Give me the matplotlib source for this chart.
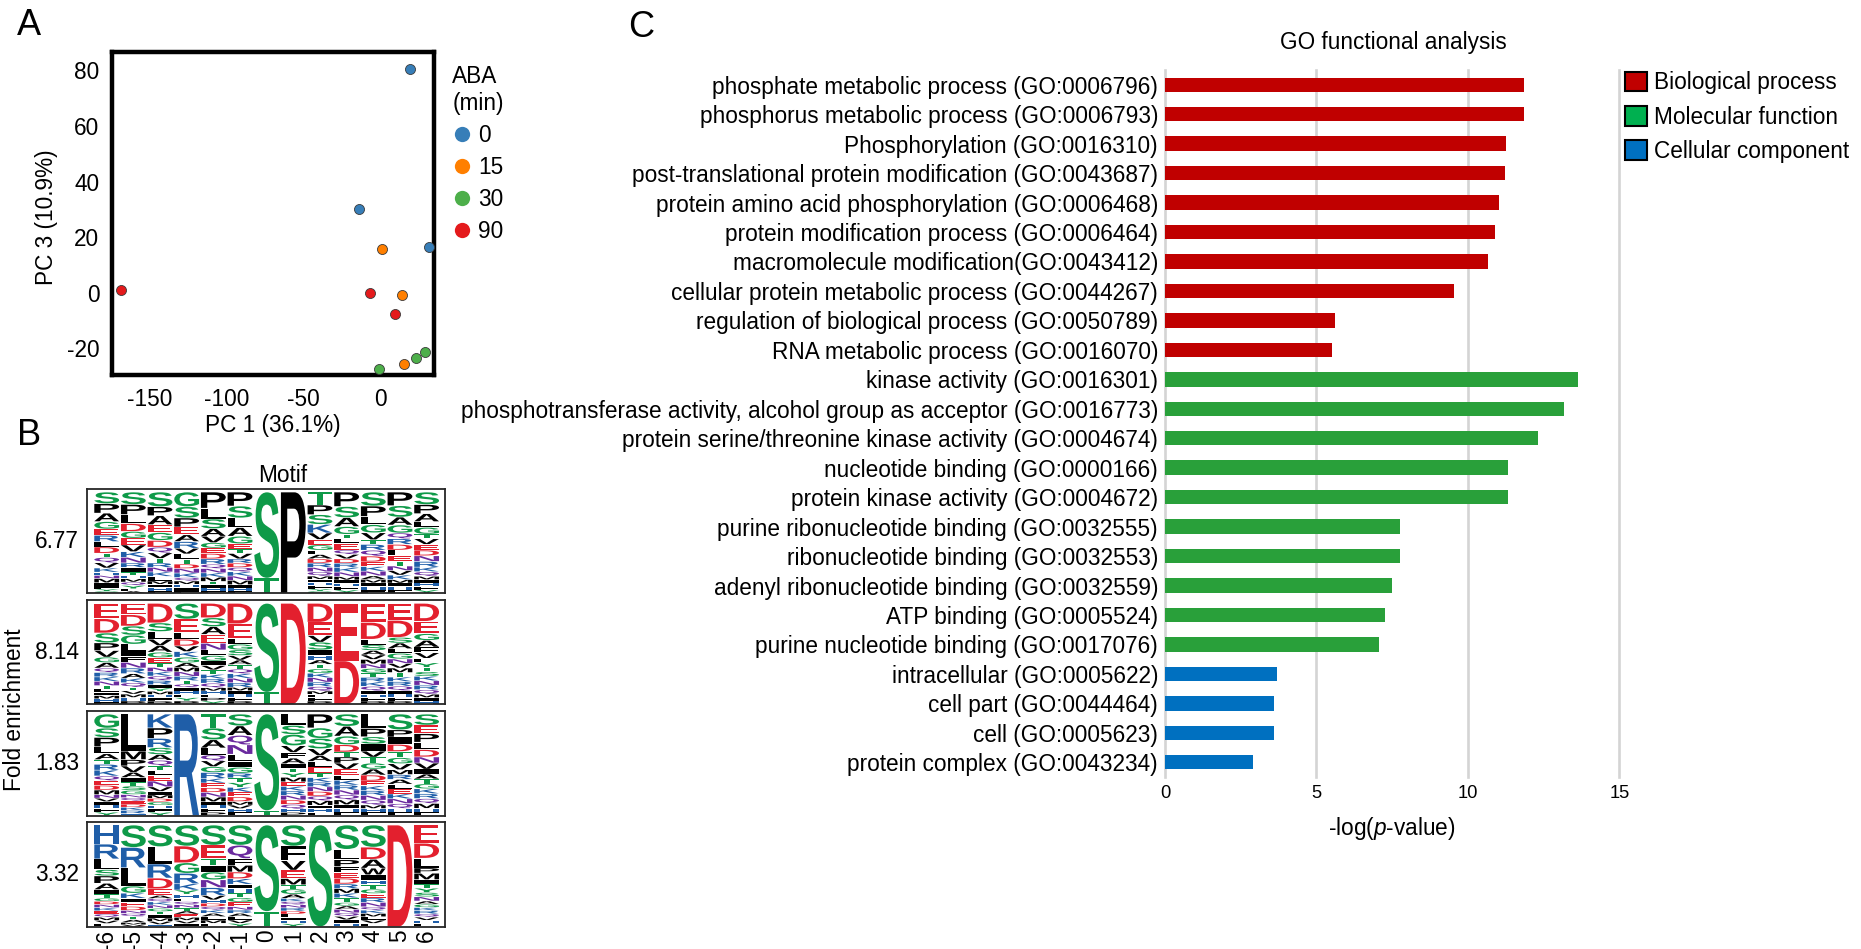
import matplotlib
matplotlib.use('Agg')
import matplotlib.pyplot as plt
from matplotlib.textpath import TextPath
from matplotlib.patches import PathPatch, Patch
from matplotlib.font_manager import FontProperties
from matplotlib.transforms import Affine2D
from matplotlib.lines import Line2D

plt.rcParams['font.family'] = ['Liberation Sans', 'DejaVu Sans']
plt.rcParams['mathtext.fontset'] = 'custom'
plt.rcParams['mathtext.rm'] = 'Liberation Sans'
plt.rcParams['mathtext.it'] = 'Liberation Sans:italic'
plt.rcParams['axes.unicode_minus'] = False

# ---------------- data: panel A (PCA) ----------------
ABA_TIMES = ['0', '15', '30', '90']
ABA_COLORS = ['#377EB8', '#FF7F00', '#4DAF4A', '#E41A1C']
PC1_ABA0 = [18.9, -14.1, 31.3]
PC3_ABA0 = [80.5, 30.1, 16.5]
PC1_ABA15 = [0.8, 14.1, 15.0]
PC3_ABA15 = [15.6, -0.8, -25.6]
PC1_ABA30 = [-1.2, 22.9, 29.0]
PC3_ABA30 = [-27.4, -23.4, -21.4]
PC1_ABA90 = [-169.1, -6.8, 9.4]
PC3_ABA90 = [1.1, 0.0, -7.8]
PC1_TICKS = [-150, -100, -50, 0]
PC3_TICKS = [-20, 0, 20, 40, 60, 80]

# ---------------- data: panel B (motif logos) ----------------
POSITIONS = [-6, -5, -4, -3, -2, -1, 0, 1, 2, 3, 4, 5, 6]
FOLD_ENRICHMENT = ['6.77', '8.14', '1.83', '3.32']
LOGO_1 = ["S11 P9 A8 G7 E6 R6 L5 D6 T4 Q5 V5 K4 H3 N3 M4 I3 F3 Y2 C2",
          "S11 P9 L8 D7 G6 E6 V6 K5 N5 R4 I4 T3 H3 M3 Q3 Y3 F2 A2",
          "S13 P8 A8 E7 G7 D6 Q5 V5 T4 R4 N4 K4 L4 M3 I3 H3 F2",
          "G13 S10 P8 E7 A6 R6 V5 L5 T4 D4 N4 K4 Q3 M3 H3 I3 F2",
          "P15 L10 S9 A7 V6 G5 E5 D5 R5 Q4 N4 K4 M4 T3 I3 H3 F2",
          "P13 S11 L9 A8 G7 E5 T4 V5 R4 D4 Q4 K4 N4 M4 I3 H3 F2",
          "S85 T15",
          "P100",
          "T12 P9 S9 K8 V6 E5 G5 L4 A4 D4 R4 N4 Q4 M3 I3 H3 F3 Y2 C2",
          "P13 S10 A8 G7 T4 L4 E6 Q4 V4 D4 R4 K4 N4 M3 I3 H3 F3 Y3",
          "S12 P9 L7 G7 V6 T4 R5 Q5 D5 E4 K4 N4 A3 M3 I3 H3 F3",
          "P12 S10 A7 G7 Q5 R5 D5 L5 E5 T4 N4 V4 K4 M3 I3 H3 F3",
          "S11 P8 A7 L5 G6 T4 V5 E5 D5 N5 R5 K4 Q4 M3 I3 H3 F3 Y3"]
LOGO_2 = ["E14 D13 S9 P7 V6 G5 A5 Q4 R4 K4 N4 T3 L3 I3 M3 H3 F2",
          "E10 D10 S8 G8 L6 I5 F5 N5 R5 A4 K4 Q4 T3 V3 M3 H3 P3",
          "D18 S8 L7 V6 A6 G5 E5 T4 N4 K4 Q4 R4 I3 Y3 M3 H3 F3 P3",
          "S14 E12 L6 D6 V5 K5 G5 A4 M4 N4 R4 T3 Q3 I3 H3 F3 Y3 P3",
          "D13 S8 A7 E8 N6 L5 G5 I4 V4 T4 K4 R4 Q4 M3 H3 F3 P3 Y3",
          "D18 E13 L5 G5 S5 V4 A4 T4 Q4 K4 N4 R4 M3 I3 H3 F3 P3",
          "S88 T12",
          "D100",
          "D17 E12 V6 S7 I5 H4 A4 T4 G4 K4 N4 R4 Q4 M3 L3 F3 P3",
          "E57 D43",
          "E17 D15 L5 S5 A4 V4 M4 N4 G4 T4 R4 K4 Q4 I3 H3 F3 P3",
          "E15 D15 S5 A5 L4 G5 N4 V4 M4 T4 K4 R4 Q4 I3 H3 F3 P3",
          "D16 E11 G6 A6 F5 V5 L4 Y4 T4 S4 K4 N4 R4 Q4 M3 I3 H3"]
LOGO_3 = ["G12 S8 P8 L6 A5 T4 R5 K5 Q4 E4 D4 M4 N3 V3 I3 H3 F3 Y3",
          "L35 M8 P6 V6 A5 I4 T4 S4 G4 N3 Q3 E3 D3 K3 R3 H2",
          "K12 P9 R8 S6 A5 Q5 T4 L4 E5 N5 V4 I3 M3 D3 G3 H3 F3 Y3",
          "R100",
          "T12 S10 A7 L6 Q5 V5 G5 R5 K4 E4 D4 N4 M4 I3 H3 F3 P3",
          "S10 A8 Q8 N8 L6 I5 G5 R4 T4 Y4 K4 E4 D4 M3 V3 H3 F3",
          "S95 T5",
          "L10 S8 G10 V6 F5 A5 I4 T4 Y4 M4 E4 K4 R4 N4 D4 Q4 H3 P3",
          "P12 G9 S9 V6 A5 L5 E5 T4 K4 R4 N4 D4 Q4 M4 I3 H3 F3",
          "S10 A8 G7 D6 T4 P5 V5 E5 L4 K4 R4 N4 Q4 M4 I3 H3 F3",
          "L12 P7 S6 I6 V5 T5 G5 A5 D5 E4 K4 R4 N4 Q4 M3 H3 F3",
          "S13 P6 I6 D6 T5 G5 V5 M4 R4 A4 L4 E4 K4 N4 Q4 H3 F3",
          "S9 E7 P7 L6 D6 N5 V5 I4 A4 T4 G4 K4 R4 Q4 M4 H3 F3"]
LOGO_4 = ["H18 R14 L10 S6 P7 A6 I4 T4 G3 D3 N3 K3 E3 Q3 M3 V3 F3",
          "S22 R20 L18 G7 K5 I4 E4 D4 N3 Q3 T3 A3 M2 V2",
          "S20 L16 R13 D10 E6 A3 Q3 K3 N3 G3 T3 I3 M3 V3 H2",
          "S20 D16 G10 R10 K6 Y4 H4 L3 Q3 N3 T3 A3 E3 M3 V3 I3",
          "S18 E12 T6 I6 G7 N7 R7 V4 H3 D3 Q3 K3 A3 L3 M3 F3",
          "S18 Q12 F6 M6 D6 K5 I4 H4 T4 G4 E4 N3 R3 A3 L3 V3 Y3",
          "S85 T15",
          "S20 F14 V9 E8 M6 T4 G5 A4 K3 Q3 N3 R3 D3 L3 I3 H3 Y3",
          "S100",
          "S21 L9 P6 F5 E5 D5 R4 M4 K4 T4 G3 A3 N3 Q3 V3 I3 H3",
          "S20 D11 A8 W6 I5 H4 T4 G4 E4 R4 N4 Q3 K3 M3 L3 V3 F3",
          "D100",
          "E17 D14 L9 P5 M6 I4 T4 Y4 S4 N4 A3 G3 K3 R3 Q3 V3 H3 F3"]
LOGOS = [LOGO_1, LOGO_2, LOGO_3, LOGO_4]

# ---------------- data: panel C (GO analysis) ----------------
GO_TERMS = ['phosphate metabolic process (GO:0006796)',
            'phosphorus metabolic process (GO:0006793)',
            'Phosphorylation (GO:0016310)',
            'post-translational protein modification (GO:0043687)',
            'protein amino acid phosphorylation (GO:0006468)',
            'protein modification process (GO:0006464)',
            'macromolecule modification(GO:0043412)',
            'cellular protein metabolic process (GO:0044267)',
            'regulation of biological process (GO:0050789)',
            'RNA metabolic process (GO:0016070)',
            'kinase activity (GO:0016301)',
            'phosphotransferase activity, alcohol group as acceptor (GO:0016773)',
            'protein serine/threonine kinase activity (GO:0004674)',
            'nucleotide binding (GO:0000166)',
            'protein kinase activity (GO:0004672)',
            'purine ribonucleotide binding (GO:0032555)',
            'ribonucleotide binding (GO:0032553)',
            'adenyl ribonucleotide binding (GO:0032559)',
            'ATP binding (GO:0005524)',
            'purine nucleotide binding (GO:0017076)',
            'intracellular (GO:0005622)',
            'cell part (GO:0044464)',
            'cell (GO:0005623)',
            'protein complex (GO:0043234)']
GO_VALUES = [11.85, 11.85, 11.26, 11.21, 11.02, 10.91, 10.65, 9.53, 5.61, 5.52,
             13.65, 13.18, 12.33, 11.32, 11.34, 7.76, 7.76, 7.49, 7.25, 7.06,
             3.71, 3.59, 3.59, 2.91]
GO_CATEGORY = ['BP'] * 10 + ['MF'] * 10 + ['CC'] * 4
CAT_NAMES = {'BP': 'Biological process', 'MF': 'Molecular function', 'CC': 'Cellular component'}
BAR_COLORS = {'BP': '#C00000', 'MF': '#29A03A', 'CC': '#0070C0'}
LEGEND_COLORS = {'BP': '#C00000', 'MF': '#00B050', 'CC': '#0070C0'}
GO_XTICKS = [0, 5, 10, 15]

# ---------------- layout helpers ----------------
W, H = 1861, 949
fig = plt.figure(figsize=(W / 100, H / 100), dpi=100)


def fx(px):
    return px / W


def fy(py):
    return 1 - py / H


def rect(l, t, r, b):
    return [l / W, 1 - b / H, (r - l) / W, (b - t) / H]


FS = 16.3

# ---------------- Panel A ----------------
axA = fig.add_axes(rect(111.8, 52.3, 434.3, 375.3))
series = [(PC1_ABA0, PC3_ABA0), (PC1_ABA15, PC3_ABA15),
          (PC1_ABA30, PC3_ABA30), (PC1_ABA90, PC3_ABA90)]
for lab, col, (xs, ys) in zip(ABA_TIMES, ABA_COLORS, series):
    axA.scatter(xs, ys, s=52, c=col, edgecolors='#3a3a3a', linewidths=0.6,
                zorder=3, label=lab, clip_on=False)
axA.set_xlim(-174.9, 35.0)
axA.set_ylim(-29.7, 86.5)
axA.set_xticks(PC1_TICKS)
axA.set_yticks(PC3_TICKS)
axA.tick_params(length=0, labelsize=FS, pad=9)
for s in axA.spines.values():
    s.set_linewidth(3.2)
    s.set_color('black')
fig.text(fx(273), fy(425), 'PC 1 (36.1%)', ha='center', va='center', fontsize=FS)
fig.text(fx(46.4), fy(216.7), 'PC 3 (10.9%)', ha='center', va='center',
         fontsize=FS, rotation=90)
handles = [Line2D([], [], marker='o', linestyle='none', markersize=11,
                  markerfacecolor=c, markeredgecolor='none') for c in ABA_COLORS]
legA = fig.legend(handles, ABA_TIMES, title='ABA\n(min)', loc='upper left',
                  bbox_to_anchor=(fx(441), fy(54)), frameon=False, fontsize=FS,
                  title_fontsize=FS, handletextpad=0.3, labelspacing=0.4,
                  borderpad=0, handlelength=0.8)

# ---------------- Panel B ----------------
LETTER_COLORS = {}
for ch in 'STGYC':
    LETTER_COLORS[ch] = '#0E9A48'
for ch in 'PLAVIMFW':
    LETTER_COLORS[ch] = '#000000'
for ch in 'DE':
    LETTER_COLORS[ch] = '#E3202E'
for ch in 'KRH':
    LETTER_COLORS[ch] = '#1F5EA8'
for ch in 'NQ':
    LETTER_COLORS[ch] = '#6A2A9E'

fp_logo = FontProperties(family='Liberation Sans', weight='bold')
_cache = {}


def letter_path(ch):
    if ch not in _cache:
        _cache[ch] = TextPath((0, 0), ch, size=1, prop=fp_logo)
    return _cache[ch]


def draw_letter(ax, ch, xc, y0, w, h):
    p = letter_path(ch)
    bb = p.get_extents()
    tr = (Affine2D().translate(-bb.x0, -bb.y0)
          .scale(w / bb.width, h / bb.height)
          .translate(xc - w / 2, y0))
    ax.add_patch(PathPatch(tr.transform_path(p), facecolor=LETTER_COLORS[ch],
                           edgecolor='none', lw=0))


box_tb = [(489, 593.3), (600.3, 704.3), (711, 815.7), (822, 926.7)]
logo_axes = []
for i, (logo, (t, b)) in enumerate(zip(LOGOS, box_tb)):
    ax = fig.add_axes(rect(86.7, t, 445.3, b))
    ax.set_xlim(-6.75, 6.70)
    ax.set_ylim(0, 1.03)
    for pos, spec in zip(POSITIONS, logo):
        items = [(tok[0], float(tok[1:])) for tok in spec.split()]
        total = sum(v for _, v in items)
        ytop = 1.0
        for ch, v in items:
            h = v / total
            ytop -= h
            gap = min(0.006, h * 0.2)
            draw_letter(ax, ch, pos, ytop + gap / 2, 0.93, h - gap)
    for s in ax.spines.values():
        s.set_linewidth(1.3)
        s.set_color('#262626')
    ax.set_yticks([])
    if i < 3:
        ax.set_xticks([])
    else:
        ax.set_xticks(POSITIONS)
        ax.set_xticklabels([str(p) for p in POSITIONS], rotation=90, fontsize=FS)
        ax.tick_params(axis='x', length=0, pad=2)
    fig.text(fx(79), fy((t + b) / 2), FOLD_ENRICHMENT[i], ha='right', va='center',
             fontsize=FS)
    logo_axes.append(ax)

fig.text(fx(283), fy(476), 'Motif', ha='center', va='center', fontsize=FS)
fig.text(fx(15), fy(710), 'Fold enrichment', ha='center', va='center',
         fontsize=FS, rotation=90)

# ---------------- Panel C ----------------
axC = fig.add_axes(rect(1165, 70, 1619.3, 777))
ypos = list(range(len(GO_TERMS)))
axC.barh(ypos, GO_VALUES, height=0.49,
         color=[BAR_COLORS[c] for c in GO_CATEGORY], zorder=3)
axC.set_ylim(len(GO_TERMS) - 0.5, -0.5)
axC.set_xlim(0, 15)
for v in GO_XTICKS:
    axC.axvline(v, color='#D4D4D4', linewidth=1.9, zorder=1, clip_on=False)
axC.set_xticks(GO_XTICKS)
axC.set_yticks(ypos)
axC.set_yticklabels(GO_TERMS, fontsize=FS)
axC.tick_params(axis='y', length=0, pad=5)
axC.tick_params(axis='x', length=0, pad=6, labelsize=13.2)
for s in axC.spines.values():
    s.set_visible(False)
fig.text(fx(1392), fy(828), '-log($\\it{p}$-value)', ha='center', va='center',
         fontsize=FS)
fig.text(fx(1393), fy(42.7), 'GO functional analysis', ha='center', va='center',
         fontsize=FS)
legC_handles = [Patch(facecolor=LEGEND_COLORS[k], edgecolor='black', linewidth=1.5)
                for k in ['BP', 'MF', 'CC']]
fig.legend(legC_handles, [CAT_NAMES[k] for k in ['BP', 'MF', 'CC']],
           loc='upper left', bbox_to_anchor=(fx(1614), fy(60)), frameon=False,
           fontsize=FS, handlelength=0.95, handleheight=0.95, handletextpad=0.3,
           labelspacing=0.5, borderpad=0)

# ---------------- panel letters ----------------
fig.text(fx(17), fy(8), 'A', ha='left', va='top', fontsize=26)
fig.text(fx(17), fy(418), 'B', ha='left', va='top', fontsize=26)
fig.text(fx(628), fy(10), 'C', ha='left', va='top', fontsize=26)

fig.savefig('out.png', dpi=100)
